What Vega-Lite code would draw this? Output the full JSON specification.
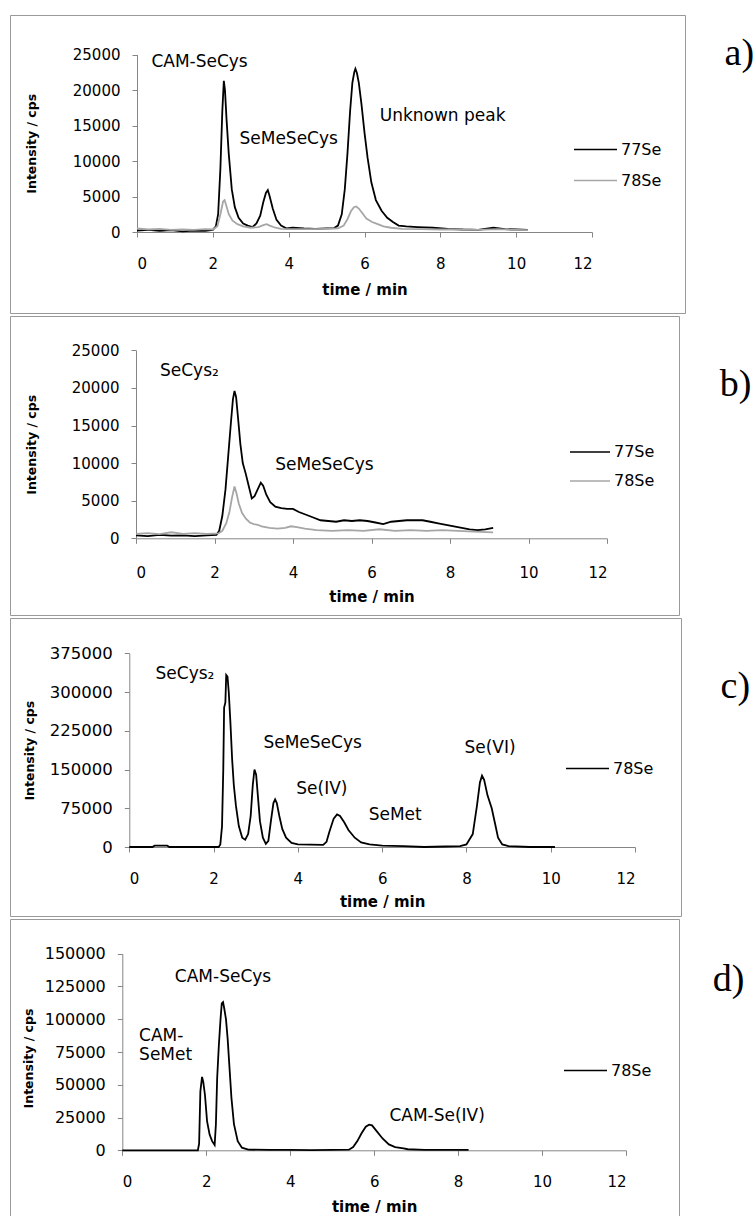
{
  "$schema": "https://vega.github.io/schema/vega-lite/v6.json",
  "padding": {"left": 9, "top": 14, "right": 0, "bottom": 0},
  "background": "white",
  "bounds": "flush",
  "spacing": 3,
  "config": {
    "view": {"stroke": "#999999", "strokeWidth": 1},
    "axis": {"domainColor": "#868686", "tickColor": "#868686", "tickSize": 5, "labelFont": "DejaVu Sans", "labelFontSize": 15, "labelColor": "black", "titleFont": "DejaVu Sans", "titleFontWeight": "bold", "titleColor": "black", "grid": false, "titleBaseline": "middle", "format": "d"},
    "axisX": {"titleFontSize": 15, "labelPadding": 19},
    "axisY": {"titleFontSize": 12.5, "labelPadding": 12},
    "legend": {"orient": "none", "title": null, "symbolType": "stroke", "symbolStrokeWidth": 1.6, "labelFont": "DejaVu Sans", "labelFontSize": 16, "labelColor": "black", "labelOffset": 3, "padding": 0, "rowPadding": 0},
    "text": {"font": "DejaVu Sans", "fontSize": 17, "color": "black"},
    "title": {"font": "Liberation Serif", "fontSize": 38, "fontWeight": "normal", "color": "black", "frame": "group"}
  },
  "datasets": {
    "a": [
      {"t":0,"v":200,"s":"77Se"},{"t":0.3,"v":300,"s":"77Se"},{"t":0.6,"v":150,"s":"77Se"},{"t":0.9,"v":250,"s":"77Se"},{"t":1.2,"v":100,"s":"77Se"},{"t":1.5,"v":200,"s":"77Se"},{"t":1.8,"v":150,"s":"77Se"},{"t":2.0,"v":300,"s":"77Se"},{"t":2.08,"v":800,"s":"77Se"},{"t":2.14,"v":2500,"s":"77Se"},{"t":2.2,"v":9000,"s":"77Se"},{"t":2.25,"v":17000,"s":"77Se"},{"t":2.29,"v":21300,"s":"77Se"},{"t":2.32,"v":20000,"s":"77Se"},{"t":2.36,"v":16000,"s":"77Se"},{"t":2.42,"v":11000,"s":"77Se"},{"t":2.5,"v":6000,"s":"77Se"},{"t":2.58,"v":3500,"s":"77Se"},{"t":2.68,"v":2000,"s":"77Se"},{"t":2.8,"v":1200,"s":"77Se"},{"t":2.92,"v":900,"s":"77Se"},{"t":3.05,"v":700,"s":"77Se"},{"t":3.15,"v":1200,"s":"77Se"},{"t":3.25,"v":2300,"s":"77Se"},{"t":3.33,"v":4200,"s":"77Se"},{"t":3.4,"v":5500,"s":"77Se"},{"t":3.45,"v":5900,"s":"77Se"},{"t":3.5,"v":5000,"s":"77Se"},{"t":3.58,"v":3300,"s":"77Se"},{"t":3.68,"v":1700,"s":"77Se"},{"t":3.8,"v":900,"s":"77Se"},{"t":3.95,"v":500,"s":"77Se"},{"t":4.1,"v":600,"s":"77Se"},{"t":4.4,"v":500,"s":"77Se"},{"t":4.7,"v":450,"s":"77Se"},{"t":5.0,"v":500,"s":"77Se"},{"t":5.2,"v":550,"s":"77Se"},{"t":5.3,"v":900,"s":"77Se"},{"t":5.4,"v":2500,"s":"77Se"},{"t":5.48,"v":6000,"s":"77Se"},{"t":5.55,"v":11000,"s":"77Se"},{"t":5.62,"v":17000,"s":"77Se"},{"t":5.68,"v":21000,"s":"77Se"},{"t":5.73,"v":22500,"s":"77Se"},{"t":5.76,"v":23000,"s":"77Se"},{"t":5.8,"v":22400,"s":"77Se"},{"t":5.85,"v":21000,"s":"77Se"},{"t":5.92,"v":18000,"s":"77Se"},{"t":6.0,"v":14000,"s":"77Se"},{"t":6.08,"v":10500,"s":"77Se"},{"t":6.18,"v":7000,"s":"77Se"},{"t":6.3,"v":4500,"s":"77Se"},{"t":6.45,"v":3000,"s":"77Se"},{"t":6.6,"v":2000,"s":"77Se"},{"t":6.75,"v":1400,"s":"77Se"},{"t":6.9,"v":900,"s":"77Se"},{"t":7.1,"v":800,"s":"77Se"},{"t":7.4,"v":700,"s":"77Se"},{"t":7.8,"v":600,"s":"77Se"},{"t":8.2,"v":450,"s":"77Se"},{"t":8.6,"v":350,"s":"77Se"},{"t":9.0,"v":300,"s":"77Se"},{"t":9.4,"v":600,"s":"77Se"},{"t":9.7,"v":400,"s":"77Se"},{"t":10.0,"v":350,"s":"77Se"},{"t":10.3,"v":300,"s":"77Se"},
      {"t":0,"v":500,"s":"78Se"},{"t":0.3,"v":350,"s":"78Se"},{"t":0.6,"v":450,"s":"78Se"},{"t":0.9,"v":300,"s":"78Se"},{"t":1.2,"v":350,"s":"78Se"},{"t":1.5,"v":300,"s":"78Se"},{"t":1.8,"v":400,"s":"78Se"},{"t":2.0,"v":350,"s":"78Se"},{"t":2.12,"v":800,"s":"78Se"},{"t":2.2,"v":2500,"s":"78Se"},{"t":2.27,"v":4300,"s":"78Se"},{"t":2.31,"v":4500,"s":"78Se"},{"t":2.35,"v":3800,"s":"78Se"},{"t":2.42,"v":2500,"s":"78Se"},{"t":2.52,"v":1600,"s":"78Se"},{"t":2.65,"v":1100,"s":"78Se"},{"t":2.8,"v":800,"s":"78Se"},{"t":3.0,"v":600,"s":"78Se"},{"t":3.2,"v":700,"s":"78Se"},{"t":3.35,"v":1000,"s":"78Se"},{"t":3.42,"v":1100,"s":"78Se"},{"t":3.5,"v":900,"s":"78Se"},{"t":3.65,"v":600,"s":"78Se"},{"t":3.8,"v":450,"s":"78Se"},{"t":4.1,"v":400,"s":"78Se"},{"t":4.5,"v":400,"s":"78Se"},{"t":5.0,"v":450,"s":"78Se"},{"t":5.3,"v":500,"s":"78Se"},{"t":5.45,"v":900,"s":"78Se"},{"t":5.55,"v":1800,"s":"78Se"},{"t":5.65,"v":3000,"s":"78Se"},{"t":5.72,"v":3500,"s":"78Se"},{"t":5.78,"v":3600,"s":"78Se"},{"t":5.85,"v":3300,"s":"78Se"},{"t":5.95,"v":2600,"s":"78Se"},{"t":6.05,"v":1900,"s":"78Se"},{"t":6.2,"v":1400,"s":"78Se"},{"t":6.35,"v":1100,"s":"78Se"},{"t":6.5,"v":800,"s":"78Se"},{"t":6.7,"v":600,"s":"78Se"},{"t":7.0,"v":450,"s":"78Se"},{"t":7.5,"v":400,"s":"78Se"},{"t":8.0,"v":350,"s":"78Se"},{"t":8.5,"v":350,"s":"78Se"},{"t":9.0,"v":300,"s":"78Se"},{"t":9.5,"v":400,"s":"78Se"},{"t":10.0,"v":300,"s":"78Se"},{"t":10.3,"v":250,"s":"78Se"}
    ],
    "b": [
      {"t":0,"v":400,"s":"77Se"},{"t":0.3,"v":300,"s":"77Se"},{"t":0.6,"v":450,"s":"77Se"},{"t":0.9,"v":350,"s":"77Se"},{"t":1.2,"v":400,"s":"77Se"},{"t":1.5,"v":300,"s":"77Se"},{"t":1.8,"v":400,"s":"77Se"},{"t":2.05,"v":450,"s":"77Se"},{"t":2.12,"v":1000,"s":"77Se"},{"t":2.2,"v":3000,"s":"77Se"},{"t":2.28,"v":6500,"s":"77Se"},{"t":2.35,"v":11000,"s":"77Se"},{"t":2.42,"v":15500,"s":"77Se"},{"t":2.47,"v":18500,"s":"77Se"},{"t":2.51,"v":19600,"s":"77Se"},{"t":2.55,"v":18800,"s":"77Se"},{"t":2.6,"v":16000,"s":"77Se"},{"t":2.66,"v":12500,"s":"77Se"},{"t":2.72,"v":10000,"s":"77Se"},{"t":2.8,"v":8500,"s":"77Se"},{"t":2.88,"v":6800,"s":"77Se"},{"t":2.95,"v":5300,"s":"77Se"},{"t":3.02,"v":5600,"s":"77Se"},{"t":3.1,"v":6500,"s":"77Se"},{"t":3.18,"v":7400,"s":"77Se"},{"t":3.24,"v":7000,"s":"77Se"},{"t":3.32,"v":5800,"s":"77Se"},{"t":3.42,"v":4800,"s":"77Se"},{"t":3.55,"v":4200,"s":"77Se"},{"t":3.7,"v":4000,"s":"77Se"},{"t":3.85,"v":3900,"s":"77Se"},{"t":4.0,"v":3900,"s":"77Se"},{"t":4.15,"v":3500,"s":"77Se"},{"t":4.3,"v":3200,"s":"77Se"},{"t":4.5,"v":2800,"s":"77Se"},{"t":4.7,"v":2400,"s":"77Se"},{"t":4.9,"v":2300,"s":"77Se"},{"t":5.1,"v":2200,"s":"77Se"},{"t":5.3,"v":2400,"s":"77Se"},{"t":5.5,"v":2300,"s":"77Se"},{"t":5.7,"v":2400,"s":"77Se"},{"t":5.9,"v":2300,"s":"77Se"},{"t":6.1,"v":2100,"s":"77Se"},{"t":6.3,"v":1900,"s":"77Se"},{"t":6.5,"v":2200,"s":"77Se"},{"t":6.7,"v":2300,"s":"77Se"},{"t":6.9,"v":2400,"s":"77Se"},{"t":7.1,"v":2400,"s":"77Se"},{"t":7.3,"v":2400,"s":"77Se"},{"t":7.5,"v":2200,"s":"77Se"},{"t":7.7,"v":2000,"s":"77Se"},{"t":7.9,"v":1800,"s":"77Se"},{"t":8.1,"v":1600,"s":"77Se"},{"t":8.3,"v":1400,"s":"77Se"},{"t":8.5,"v":1200,"s":"77Se"},{"t":8.7,"v":1100,"s":"77Se"},{"t":8.9,"v":1200,"s":"77Se"},{"t":9.1,"v":1400,"s":"77Se"},
      {"t":0,"v":600,"s":"78Se"},{"t":0.3,"v":700,"s":"78Se"},{"t":0.6,"v":550,"s":"78Se"},{"t":0.9,"v":800,"s":"78Se"},{"t":1.2,"v":600,"s":"78Se"},{"t":1.5,"v":700,"s":"78Se"},{"t":1.8,"v":600,"s":"78Se"},{"t":2.1,"v":650,"s":"78Se"},{"t":2.2,"v":1000,"s":"78Se"},{"t":2.3,"v":2000,"s":"78Se"},{"t":2.38,"v":3500,"s":"78Se"},{"t":2.45,"v":5500,"s":"78Se"},{"t":2.51,"v":6900,"s":"78Se"},{"t":2.56,"v":6000,"s":"78Se"},{"t":2.62,"v":4600,"s":"78Se"},{"t":2.7,"v":3400,"s":"78Se"},{"t":2.8,"v":2600,"s":"78Se"},{"t":2.9,"v":2100,"s":"78Se"},{"t":3.0,"v":1900,"s":"78Se"},{"t":3.1,"v":1800,"s":"78Se"},{"t":3.2,"v":1600,"s":"78Se"},{"t":3.4,"v":1400,"s":"78Se"},{"t":3.6,"v":1300,"s":"78Se"},{"t":3.8,"v":1400,"s":"78Se"},{"t":3.95,"v":1600,"s":"78Se"},{"t":4.1,"v":1500,"s":"78Se"},{"t":4.3,"v":1300,"s":"78Se"},{"t":4.6,"v":1100,"s":"78Se"},{"t":5.0,"v":1000,"s":"78Se"},{"t":5.4,"v":1100,"s":"78Se"},{"t":5.8,"v":1000,"s":"78Se"},{"t":6.2,"v":1200,"s":"78Se"},{"t":6.6,"v":1000,"s":"78Se"},{"t":7.0,"v":1100,"s":"78Se"},{"t":7.4,"v":1000,"s":"78Se"},{"t":7.8,"v":1100,"s":"78Se"},{"t":8.2,"v":1000,"s":"78Se"},{"t":8.6,"v":900,"s":"78Se"},{"t":9.1,"v":800,"s":"78Se"}
    ],
    "c": [
      {"t":0,"v":0,"s":"78Se"},{"t":0.55,"v":0,"s":"78Se"},{"t":0.6,"v":2500,"s":"78Se"},{"t":0.9,"v":2500,"s":"78Se"},{"t":0.95,"v":0,"s":"78Se"},{"t":2.12,"v":0,"s":"78Se"},{"t":2.16,"v":5000,"s":"78Se"},{"t":2.2,"v":40000,"s":"78Se"},{"t":2.23,"v":150000,"s":"78Se"},{"t":2.25,"v":270000,"s":"78Se"},{"t":2.28,"v":280000,"s":"78Se"},{"t":2.3,"v":333000,"s":"78Se"},{"t":2.33,"v":330000,"s":"78Se"},{"t":2.36,"v":300000,"s":"78Se"},{"t":2.4,"v":240000,"s":"78Se"},{"t":2.44,"v":170000,"s":"78Se"},{"t":2.48,"v":120000,"s":"78Se"},{"t":2.53,"v":80000,"s":"78Se"},{"t":2.6,"v":40000,"s":"78Se"},{"t":2.68,"v":18000,"s":"78Se"},{"t":2.75,"v":14000,"s":"78Se"},{"t":2.82,"v":25000,"s":"78Se"},{"t":2.88,"v":60000,"s":"78Se"},{"t":2.93,"v":120000,"s":"78Se"},{"t":2.97,"v":150000,"s":"78Se"},{"t":3.01,"v":140000,"s":"78Se"},{"t":3.05,"v":100000,"s":"78Se"},{"t":3.1,"v":50000,"s":"78Se"},{"t":3.17,"v":18000,"s":"78Se"},{"t":3.24,"v":6000,"s":"78Se"},{"t":3.3,"v":12000,"s":"78Se"},{"t":3.36,"v":50000,"s":"78Se"},{"t":3.42,"v":85000,"s":"78Se"},{"t":3.46,"v":92000,"s":"78Se"},{"t":3.5,"v":85000,"s":"78Se"},{"t":3.56,"v":60000,"s":"78Se"},{"t":3.63,"v":35000,"s":"78Se"},{"t":3.72,"v":18000,"s":"78Se"},{"t":3.85,"v":8000,"s":"78Se"},{"t":4.0,"v":5000,"s":"78Se"},{"t":4.3,"v":4500,"s":"78Se"},{"t":4.6,"v":4000,"s":"78Se"},{"t":4.68,"v":10000,"s":"78Se"},{"t":4.75,"v":30000,"s":"78Se"},{"t":4.85,"v":55000,"s":"78Se"},{"t":4.93,"v":63000,"s":"78Se"},{"t":5.0,"v":60000,"s":"78Se"},{"t":5.1,"v":48000,"s":"78Se"},{"t":5.2,"v":33000,"s":"78Se"},{"t":5.35,"v":18000,"s":"78Se"},{"t":5.5,"v":9000,"s":"78Se"},{"t":5.7,"v":5000,"s":"78Se"},{"t":6.0,"v":2500,"s":"78Se"},{"t":6.5,"v":1500,"s":"78Se"},{"t":7.0,"v":0,"s":"78Se"},{"t":7.5,"v":1000,"s":"78Se"},{"t":7.85,"v":1500,"s":"78Se"},{"t":8.0,"v":5000,"s":"78Se"},{"t":8.15,"v":25000,"s":"78Se"},{"t":8.25,"v":80000,"s":"78Se"},{"t":8.32,"v":125000,"s":"78Se"},{"t":8.37,"v":138000,"s":"78Se"},{"t":8.42,"v":130000,"s":"78Se"},{"t":8.5,"v":100000,"s":"78Se"},{"t":8.6,"v":75000,"s":"78Se"},{"t":8.68,"v":45000,"s":"78Se"},{"t":8.75,"v":18000,"s":"78Se"},{"t":8.85,"v":5000,"s":"78Se"},{"t":9.0,"v":1500,"s":"78Se"},{"t":9.5,"v":0,"s":"78Se"},{"t":10.1,"v":0,"s":"78Se"}
    ],
    "d": [
      {"t":0,"v":0,"s":"78Se"},{"t":1.8,"v":0,"s":"78Se"},{"t":1.83,"v":5000,"s":"78Se"},{"t":1.86,"v":45000,"s":"78Se"},{"t":1.9,"v":56000,"s":"78Se"},{"t":1.93,"v":52000,"s":"78Se"},{"t":1.97,"v":42000,"s":"78Se"},{"t":2.02,"v":22000,"s":"78Se"},{"t":2.08,"v":12000,"s":"78Se"},{"t":2.14,"v":7000,"s":"78Se"},{"t":2.2,"v":4000,"s":"78Se"},{"t":2.23,"v":20000,"s":"78Se"},{"t":2.26,"v":55000,"s":"78Se"},{"t":2.3,"v":80000,"s":"78Se"},{"t":2.34,"v":100000,"s":"78Se"},{"t":2.37,"v":112000,"s":"78Se"},{"t":2.4,"v":113000,"s":"78Se"},{"t":2.43,"v":108000,"s":"78Se"},{"t":2.47,"v":100000,"s":"78Se"},{"t":2.51,"v":85000,"s":"78Se"},{"t":2.55,"v":65000,"s":"78Se"},{"t":2.6,"v":40000,"s":"78Se"},{"t":2.66,"v":20000,"s":"78Se"},{"t":2.75,"v":7000,"s":"78Se"},{"t":2.85,"v":2000,"s":"78Se"},{"t":3.0,"v":500,"s":"78Se"},{"t":3.5,"v":300,"s":"78Se"},{"t":4.0,"v":300,"s":"78Se"},{"t":4.5,"v":200,"s":"78Se"},{"t":5.0,"v":300,"s":"78Se"},{"t":5.4,"v":500,"s":"78Se"},{"t":5.5,"v":2500,"s":"78Se"},{"t":5.6,"v":7000,"s":"78Se"},{"t":5.7,"v":13000,"s":"78Se"},{"t":5.8,"v":18000,"s":"78Se"},{"t":5.88,"v":19500,"s":"78Se"},{"t":5.95,"v":19000,"s":"78Se"},{"t":6.05,"v":15000,"s":"78Se"},{"t":6.2,"v":9000,"s":"78Se"},{"t":6.35,"v":4500,"s":"78Se"},{"t":6.5,"v":2500,"s":"78Se"},{"t":6.7,"v":1500,"s":"78Se"},{"t":6.8,"v":800,"s":"78Se"},{"t":7.2,"v":300,"s":"78Se"},{"t":7.7,"v":300,"s":"78Se"},{"t":8.25,"v":400,"s":"78Se"}
    ],
    "aLab": [{"t":1.65,"v":24000,"label":"CAM-SeCys"},{"t":4.0,"v":13150,"label":"SeMeSeCys"},{"t":8.06,"v":16300,"label":"Unknown peak"}],
    "bLab": [{"t":1.36,"v":22300,"label":"SeCys₂"},{"t":4.8,"v":9700,"label":"SeMeSeCys"}],
    "cLab": [{"t":1.32,"v":335500,"label":"SeCys₂"},{"t":4.35,"v":201000,"label":"SeMeSeCys"},{"t":4.57,"v":111700,"label":"Se(IV)"},{"t":6.31,"v":62000,"label":"SeMet"},{"t":8.56,"v":192000,"label":"Se(VI)"}],
    "dLab": [{"t":2.4,"v":132500,"label":"CAM-SeCys"},{"t":7.5,"v":26000,"label":"CAM-Se(IV)"}],
    "dLabL": [{"t":0.4,"v":87500,"label":"CAM-"},{"t":0.4,"v":72500,"label":"SeMet"}]
  },
  "vconcat": [
    {
      "width": 675, "height": 298,
      "title": {"text": "a)", "orient": "right", "anchor": "start", "angle": 0, "align": "left", "baseline": "top", "offset": 10, "dy": 20},
      "layer": [
        {"data": {"name": "a"}, "mark": {"type": "line", "strokeWidth": 1.8},
         "encoding": {
           "x": {"field": "t", "type": "quantitative", "scale": {"domain": [0, 12], "range": [127, 582], "nice": false, "zero": false}, "axis": {"values": [0,2,4,6,8,10,12], "offset": -81, "title": "time / min", "titleY": 57}},
           "y": {"field": "v", "type": "quantitative", "scale": {"domain": [0, 25000], "range": [217, 39.5], "nice": false}, "axis": {"values": [0,5000,10000,15000,20000,25000], "offset": -127, "title": "Intensity / cps", "titleX": -106}},
           "color": {"field": "s", "type": "nominal", "scale": {"domain": ["77Se","78Se"], "range": ["black","#a6a6a6"]}, "legend": {"legendX": 563, "legendY": 112, "symbolSize": 1849}}
         }},
        {"data": {"name": "aLab"}, "mark": {"type": "text"},
         "encoding": {"x": {"field": "t", "type": "quantitative"}, "y": {"field": "v", "type": "quantitative"}, "text": {"field": "label"}}}
      ]
    },
    {
      "width": 669, "height": 299,
      "title": {"text": "b)", "orient": "right", "anchor": "start", "angle": 0, "align": "left", "baseline": "top", "offset": 9, "dy": 50},
      "layer": [
        {"data": {"name": "b"}, "mark": {"type": "line", "strokeWidth": 1.8},
         "encoding": {
           "x": {"field": "t", "type": "quantitative", "scale": {"domain": [0, 12], "range": [126, 597], "nice": false, "zero": false}, "axis": {"values": [0,2,4,6,8,10,12], "offset": -76.7, "title": "time / min", "titleY": 58, "labelPadding": 22}},
           "y": {"field": "v", "type": "quantitative", "scale": {"domain": [0, 25000], "range": [222.3, 34.3], "nice": false}, "axis": {"values": [0,5000,10000,15000,20000,25000], "offset": -126, "title": "Intensity / cps", "titleX": -105}},
           "color": {"field": "s", "type": "nominal", "scale": {"domain": ["77Se","78Se"], "range": ["black","#a6a6a6"]}, "legend": {"legendX": 559, "legendY": 115, "symbolSize": 1600}}
         }},
        {"data": {"name": "bLab"}, "mark": {"type": "text"},
         "encoding": {"x": {"field": "t", "type": "quantitative"}, "y": {"field": "v", "type": "quantitative"}, "text": {"field": "label"}}}
      ]
    },
    {
      "width": 671, "height": 298,
      "title": {"text": "c)", "orient": "right", "anchor": "start", "angle": 0, "align": "left", "baseline": "top", "offset": 10, "dy": 50},
      "layer": [
        {"data": {"name": "c"}, "mark": {"type": "line", "strokeWidth": 1.8},
         "encoding": {
           "x": {"field": "t", "type": "quantitative", "scale": {"domain": [0, 12], "range": [119.3, 625], "nice": false, "zero": false}, "axis": {"values": [0,2,4,6,8,10,12], "offset": -69, "title": "time / min", "titleY": 54}},
           "y": {"field": "v", "type": "quantitative", "scale": {"domain": [0, 375000], "range": [229, 35.3], "nice": false}, "axis": {"values": [0,75000,150000,225000,300000,375000], "offset": -119.3, "title": "Intensity / cps", "titleX": -100, "labelFontSize": 16.5}},
           "color": {"field": "s", "type": "nominal", "scale": {"domain": ["78Se"], "range": ["black"]}, "legend": {"legendX": 555, "legendY": 128, "symbolSize": 1849}}
         }},
        {"data": {"name": "cLab"}, "mark": {"type": "text"},
         "encoding": {"x": {"field": "t", "type": "quantitative"}, "y": {"field": "v", "type": "quantitative"}, "text": {"field": "label"}}}
      ]
    },
    {
      "width": 669, "height": 306,
      "title": {"text": "d)", "orient": "right", "anchor": "start", "angle": 0, "align": "left", "baseline": "top", "offset": 2, "dy": 42},
      "layer": [
        {"data": {"name": "d"}, "mark": {"type": "line", "strokeWidth": 1.8},
         "encoding": {
           "x": {"field": "t", "type": "quantitative", "scale": {"domain": [0, 12], "range": [112.3, 616], "nice": false, "zero": false}, "axis": {"values": [0,2,4,6,8,10,12], "offset": -74.7, "title": "time / min", "titleY": 56}},
           "y": {"field": "v", "type": "quantitative", "scale": {"domain": [0, 150000], "range": [231.3, 34.7], "nice": false}, "axis": {"values": [0,25000,50000,75000,100000,125000,150000], "offset": -112.3, "title": "Intensity / cps", "titleX": -94, "titleY": 139, "labelFontSize": 16}},
           "color": {"field": "s", "type": "nominal", "scale": {"domain": ["78Se"], "range": ["black"]}, "legend": {"legendX": 553, "legendY": 129, "symbolSize": 1849}}
         }},
        {"data": {"name": "dLab"}, "mark": {"type": "text"},
         "encoding": {"x": {"field": "t", "type": "quantitative"}, "y": {"field": "v", "type": "quantitative"}, "text": {"field": "label"}}},
        {"data": {"name": "dLabL"}, "mark": {"type": "text", "align": "left"},
         "encoding": {"x": {"field": "t", "type": "quantitative"}, "y": {"field": "v", "type": "quantitative"}, "text": {"field": "label"}}}
      ]
    }
  ],
  "resolve": {"scale": {"x": "independent", "y": "independent", "color": "independent"}, "legend": {"color": "independent"}}
}
